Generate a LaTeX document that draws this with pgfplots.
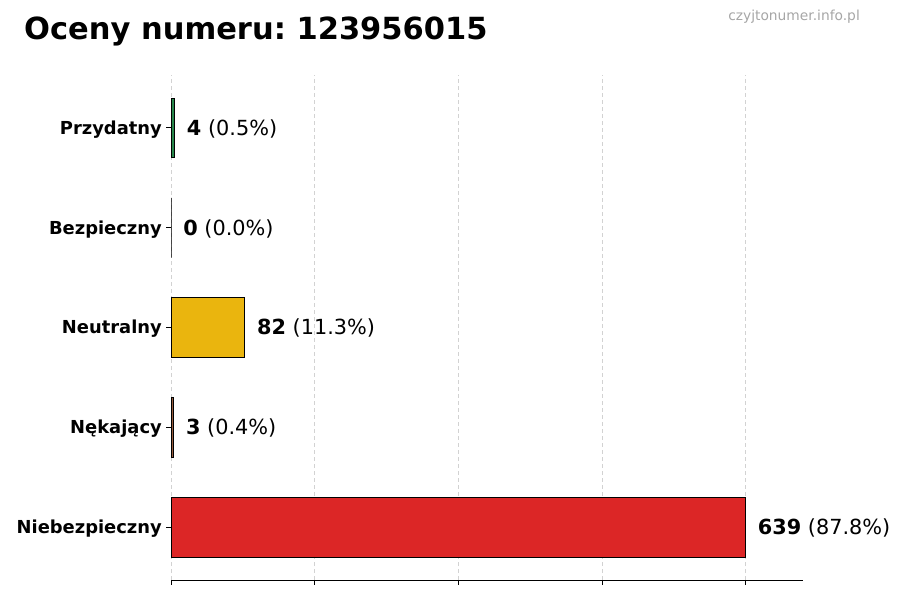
\documentclass[border=0pt]{standalone}
\usepackage{fontspec}
\setmainfont{DejaVu Sans}
\usepackage{pgfplots}
\pgfplotsset{compat=1.18}
\frenchspacing

\definecolor{przyd}{RGB}{40,135,75}
\definecolor{bezp}{RGB}{90,90,90}
\definecolor{neutr}{RGB}{234,181,14}
\definecolor{nekaj}{RGB}{150,90,60}
\definecolor{niebez}{RGB}{220,38,38}

\begin{document}
\begin{tikzpicture}[x=1pt,y=1pt]
\useasboundingbox (0,0) rectangle (900,600);

\begin{axis}[%
	at={(171pt,20pt)}, anchor=south west,
	scale only axis,
	width=632pt, height=505pt,
	xmin=0, xmax=702.9,
	ymin=-0.53, ymax=4.53,
	xbar, bar width=0.6, bar shift=0pt,
	axis x line*=bottom,
	axis y line*=left,
	y axis line style={draw=none},
	x axis line style={black, line width=1pt},
	xtick={0,159.75,319.5,479.25,639},
	xticklabels={},
	ytick={0,1,2,3,4},
	yticklabels={Niebezpieczny,Nękający,Neutralny,Bezpieczny,Przydatny},
	yticklabel style={font=\fontsize{17.9}{20}\selectfont\bfseries, inner sep=0pt, xshift=-4pt, yshift=-1.5pt},
	tick align=outside,
	major tick length=5pt,
	tick style={black, line width=0.8pt},
	xmajorgrids,
	grid style={dash pattern=on 4pt off 3pt, gray!35, line width=0.6pt},
	point meta=explicit symbolic,
	nodes near coords,
	every node near coord/.append style={anchor=west, inner sep=0pt, xshift=12pt, yshift=-0.8pt,
		font=\fontsize{20.8}{24}\selectfont, text=black},
	]

\addplot [fill=przyd, draw=black, line width=0.8pt] coordinates { (4,4) [\textbf{4} (0.5\%)] };
\addplot [fill=bezp, draw=black, line width=0.8pt] coordinates { (0,3) [\textbf{0} (0.0\%)] };
\addplot [fill=neutr, draw=black, line width=0.8pt] coordinates { (82,2) [\textbf{82} (11.3\%)] };
\addplot [fill=nekaj, draw=black, line width=0.8pt] coordinates { (3,1) [\textbf{3} (0.4\%)] };
\addplot [fill=niebez, draw=black, line width=0.8pt] coordinates { (639,0) [\textbf{639} (87.8\%)] };

\end{axis}

\node [anchor=base west, inner sep=0pt, font=\fontsize{30.5}{34}\selectfont\bfseries] at (24,560) {Oceny numeru: 123956015};
\node [anchor=east, inner sep=0pt, text=gray!70, font=\fontsize{13.8}{16}\selectfont] at (860,583) {czyjtonumer.info.pl};

\end{tikzpicture}
\end{document}
